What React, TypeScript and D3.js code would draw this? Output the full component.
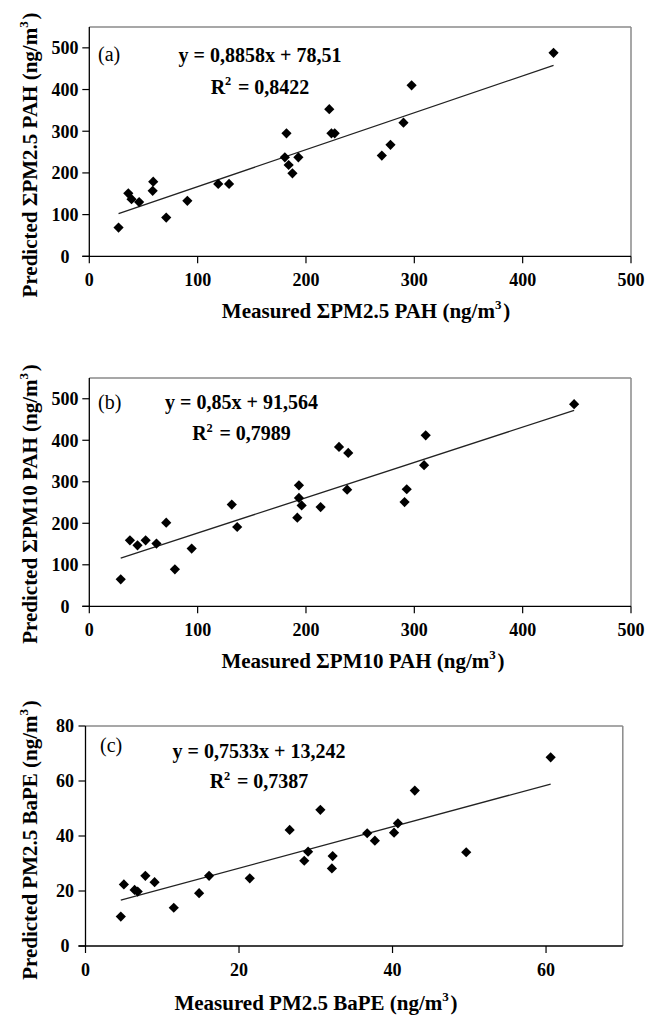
import React from 'react';
import * as d3 from 'd3';

// (a) sum of PM2.5 PAH, ng/m3
const pm25PahMeasured = [27, 36, 39, 46, 58.5, 59, 71, 90.5, 119, 129, 180.5, 182, 184, 187.5, 193, 221.5, 223.5, 226.5, 270, 278, 290, 297.5, 428.5];
const pm25PahPredicted = [69, 151, 137, 130, 157, 179, 93, 133, 173.5, 173.5, 237.5, 295, 219, 199, 237.5, 353, 295, 295, 241.5, 267.5, 320.5, 410, 488];

// (b) sum of PM10 PAH, ng/m3
const pm10PahMeasured = [29, 37.5, 44.5, 52, 62, 71, 79, 94.5, 131.5, 136.5, 192, 193.5, 193.5, 196, 213.5, 230.5, 238, 239, 291, 293, 309, 310.5, 447.5];
const pm10PahPredicted = [65, 159, 147, 159, 151, 201.5, 89, 139, 245, 191, 213.5, 261, 291.5, 243, 239, 384, 281, 369.5, 251, 282, 340, 412, 487];

// (c) PM2.5 BaPE, ng/m3
const pm25BapeMeasured = [4.6, 5.0, 6.4, 6.8, 7.8, 9.0, 11.5, 14.8, 16.1, 21.4, 26.6, 28.5, 29.0, 30.6, 32.1, 32.2, 36.7, 37.7, 40.2, 40.7, 42.9, 49.6, 60.6];
const pm25BapePredicted = [10.7, 22.4, 20.4, 19.8, 25.5, 23.2, 13.9, 19.2, 25.5, 24.6, 42.2, 31, 34.3, 49.5, 28.2, 32.7, 41, 38.3, 41.2, 44.6, 56.5, 34.1, 68.6];

const pahTicks = [0, 100, 200, 300, 400, 500];
const bapeXTicks = [0, 20, 40, 60];
const bapeYTicks = [0, 20, 40, 60, 80];

const fits = [
  { slope: 0.8858, intercept: 78.51, eq: 'y = 0,8858x + 78,51', r2: '0,8422' },
  { slope: 0.85, intercept: 91.564, eq: 'y = 0,85x + 91,564', r2: '0,7989' },
  { slope: 0.7533, intercept: 13.242, eq: 'y = 0,7533x + 13,242', r2: '0,7387' },
];

const FONT = '"Liberation Serif", "Times New Roman", serif';

type PanelProps = {
  xs: number[];
  ys: number[];
  xDomain: [number, number];
  yDomain: [number, number];
  xTicks: number[];
  yTicks: number[];
  box: { left: number; right: number; top: number; bottom: number };
  fit: typeof fits[number];
  tag: string;
  tagPos: [number, number];
  eqPos: [number, number, number];
  xTitle: string;
  xTitlePos: [number, number];
  yTitle: string;
  yTitleY: number;
};

const Sup = ({ children, main }: { children: string; main: number }) => (
  <>
    <tspan dy={-main * 0.42} fontSize={main * 0.62}>{children}</tspan>
    <tspan dy={main * 0.42}>{'\u200A'}</tspan>
  </>
);

const Panel = (p: PanelProps) => {
  const { box } = p;
  const x = d3.scaleLinear().domain(p.xDomain).range([box.left, box.right]);
  const y = d3.scaleLinear().domain(p.yDomain).range([box.bottom, box.top]);
  const diamond = d3.symbol(d3.symbolSquare, 52)();
  const x0 = d3.min(p.xs)!;
  const x1 = d3.max(p.xs)!;
  const fitLine = d3.line<number>()
    .x(v => x(v))
    .y(v => y(p.fit.slope * v + p.fit.intercept))([x0, x1]);

  return (
    <g>
      {/* plot frame: gray top/right, black axes */}
      <line x1={box.left} y1={box.top} x2={box.right} y2={box.top} stroke="#8a8a8a" strokeWidth={1.5} />
      <line x1={box.right} y1={box.top} x2={box.right} y2={box.bottom} stroke="#8a8a8a" strokeWidth={1.5} />
      <line x1={box.left} y1={box.top} x2={box.left} y2={box.bottom} stroke="#000" strokeWidth={1.3} />
      <line x1={box.left - 7} y1={box.bottom} x2={box.right} y2={box.bottom} stroke="#000" strokeWidth={1.3} />

      {p.yTicks.map(t => (
        <g key={`y${t}`}>
          <line x1={box.left - 7} x2={box.left} y1={y(t)} y2={y(t)} stroke="#000" strokeWidth={1.2} />
          <text x={65} y={y(t)} dy="0.35em" textAnchor="middle" fontWeight="bold" fontSize={18}>{t}</text>
        </g>
      ))}
      {p.xTicks.map(t => (
        <g key={`x${t}`}>
          <line x1={x(t)} x2={x(t)} y1={box.bottom} y2={box.bottom + 7} stroke="#000" strokeWidth={1.2} />
          <text x={x(t)} y={box.bottom + 30} textAnchor="middle" fontWeight="bold" fontSize={18}>{t}</text>
        </g>
      ))}

      <path d={fitLine ?? ''} fill="none" stroke="#222" strokeWidth={1.3} />

      {p.xs.map((v, i) => (
        <path key={i} d={diamond!} transform={`translate(${x(v)},${y(p.ys[i])}) rotate(45)`} fill="#000" />
      ))}

      <text x={p.tagPos[0]} y={p.tagPos[1]} fontSize={20}>{p.tag}</text>
      <text x={p.eqPos[0]} y={p.eqPos[1]} textAnchor="middle" fontWeight="bold" fontSize={20}>{p.fit.eq}</text>
      <text x={p.eqPos[0]} y={p.eqPos[2]} textAnchor="middle" fontWeight="bold" fontSize={20}>
        R<Sup main={20}>2</Sup> = {p.fit.r2}
      </text>

      <text x={p.xTitlePos[0]} y={p.xTitlePos[1]} textAnchor="middle" fontWeight="bold" fontSize={21}>
        {p.xTitle}<Sup main={21}>3</Sup>)
      </text>
      <text transform={`translate(37,${p.yTitleY}) rotate(-90)`} textAnchor="middle" fontWeight="bold" fontSize={21}>
        {p.yTitle}<Sup main={21}>3</Sup>)
      </text>
    </g>
  );
};

export default function App() {
  return (
    <div style={{ position: 'absolute', left: 0, top: 0 }}>
      <svg width={646} height={1015} viewBox="0 0 646 1015" style={{ fontFamily: FONT, display: 'block', background: '#fff' }}>
        <Panel
          xs={pm25PahMeasured}
          ys={pm25PahPredicted}
          xDomain={[0, 500]}
          yDomain={[0, 550]}
          xTicks={pahTicks}
          yTicks={pahTicks}
          box={{ left: 89.3, right: 631, top: 27, bottom: 256.3 }}
          fit={fits[0]}
          tag="(a)"
          tagPos={[98, 61]}
          eqPos={[260, 62, 93.7]}
          xTitle="Measured ΣPM2.5 PAH (ng/m"
          xTitlePos={[366, 318]}
          yTitle="Predicted ΣPM2.5 PAH (ng/m"
          yTitleY={155}
        />
        <Panel
          xs={pm10PahMeasured}
          ys={pm10PahPredicted}
          xDomain={[0, 500]}
          yDomain={[0, 550]}
          xTicks={pahTicks}
          yTicks={pahTicks}
          box={{ left: 89.3, right: 631, top: 378, bottom: 606.3 }}
          fit={fits[1]}
          tag="(b)"
          tagPos={[98, 408.5]}
          eqPos={[241.5, 408.7, 440.3]}
          xTitle="Measured ΣPM10 PAH (ng/m"
          xTitlePos={[363, 668]}
          yTitle="Predicted ΣPM10 PAH (ng/m"
          yTitleY={504}
        />
        <Panel
          xs={pm25BapeMeasured}
          ys={pm25BapePredicted}
          xDomain={[0, 70]}
          yDomain={[0, 80]}
          xTicks={bapeXTicks}
          yTicks={bapeYTicks}
          box={{ left: 85.5, right: 622.8, top: 726, bottom: 946 }}
          fit={fits[2]}
          tag="(c)"
          tagPos={[100, 752]}
          eqPos={[259, 758.3, 788.3]}
          xTitle="Measured PM2.5 BaPE (ng/m"
          xTitlePos={[316, 1010]}
          yTitle="Predicted PM2.5 BaPE (ng/m"
          yTitleY={840}
        />
      </svg>
    </div>
  );
}
